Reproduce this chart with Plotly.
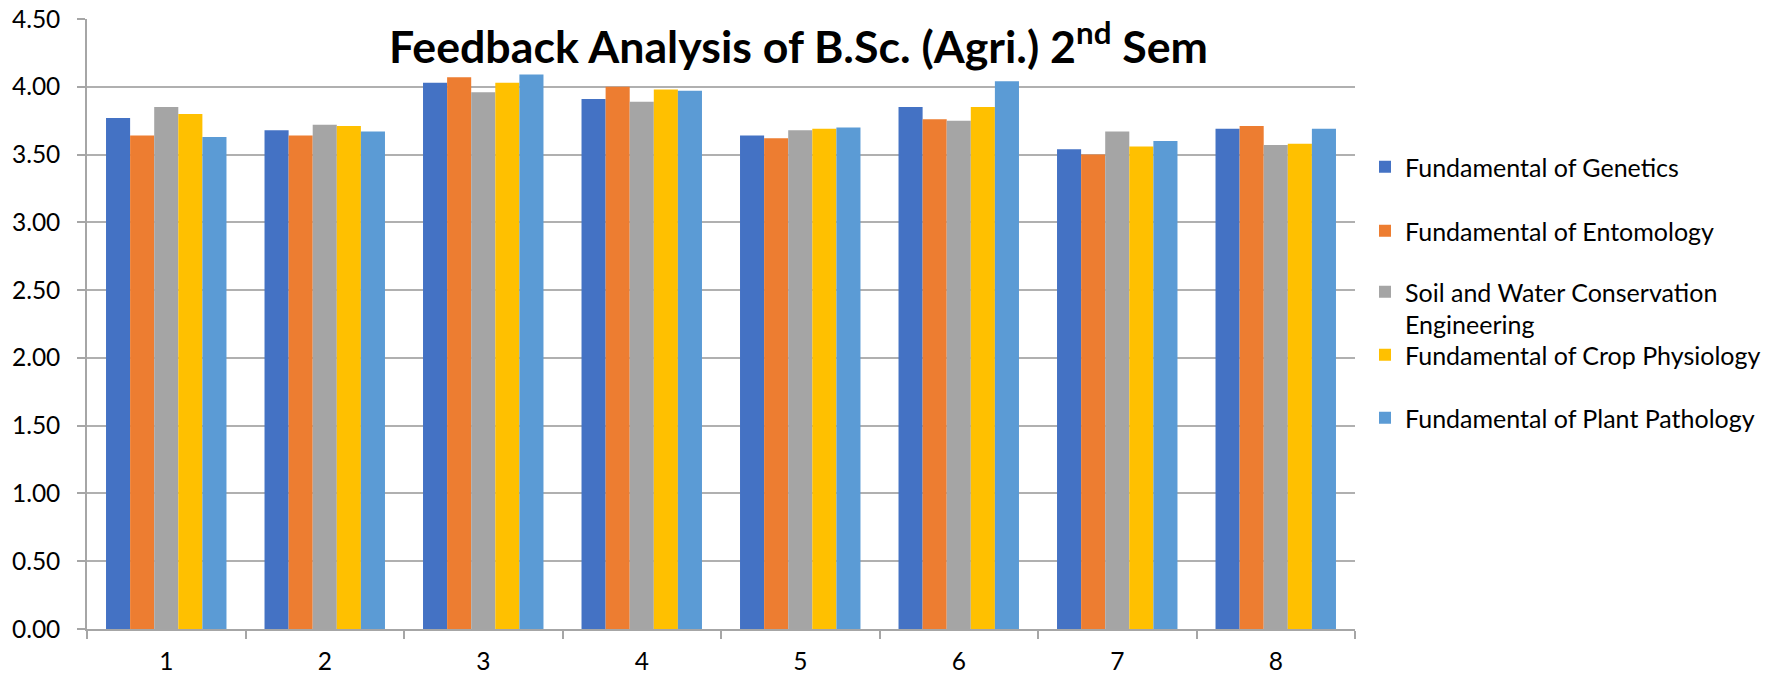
import plotly.graph_objects as go

categories = ["1", "2", "3", "4", "5", "6", "7", "8"]
series_names = [
    "Fundamental of Genetics",
    "Fundamental of Entomology",
    "Soil and Water Conservation<br>Engineering",
    "Fundamental of Crop Physiology",
    "Fundamental of Plant Pathology",
]
genetics = [3.77, 3.68, 4.03, 3.91, 3.64, 3.85, 3.54, 3.69]
entomology = [3.64, 3.64, 4.07, 4.00, 3.62, 3.76, 3.50, 3.71]
soil_water = [3.85, 3.72, 3.96, 3.89, 3.68, 3.75, 3.67, 3.57]
crop_physiology = [3.80, 3.71, 4.03, 3.98, 3.69, 3.85, 3.56, 3.58]
plant_pathology = [3.63, 3.67, 4.09, 3.97, 3.70, 4.04, 3.60, 3.69]
series_values = [genetics, entomology, soil_water, crop_physiology, plant_pathology]
colors = ["#4472C4", "#ED7D31", "#A5A5A5", "#FFC000", "#5B9BD5"]
y_ticks = [0, 0.5, 1.0, 1.5, 2.0, 2.5, 3.0, 3.5, 4.0, 4.5]

FONT = "Lato, 'Open Sans', sans-serif"
W, H = 1769, 675
legend_y_px = [168, 232, 293, 356, 419]  # legend item centres (px from top)

fig = go.Figure()
for i, (name, vals, col) in enumerate(zip(series_names, series_values, colors)):
    lg = "legend" if i == 0 else f"legend{i+1}"
    fig.add_trace(go.Bar(x=categories, y=vals, name=name, marker_color=col,
                         marker_line_width=0, legend=lg))

legend_common = dict(xref="container", yref="container", xanchor="left",
                     font=dict(family=FONT, size=25, color="#000000"),
                     bgcolor="rgba(0,0,0,0)", valign="top", itemwidth=30)
layout_legends = {}
for i, ypx in enumerate(legend_y_px):
    key = "legend" if i == 0 else f"legend{i+1}"
    layout_legends[key] = dict(legend_common, x=1365 / W, y=1 - (ypx - 24) / H, yanchor="top")

fig.update_layout(
    width=W, height=H,
    paper_bgcolor="white", plot_bgcolor="white",
    margin=dict(l=87, r=W - 1355, t=19, b=H - 629, autoexpand=False),
    barmode="group", bargap=0.24, bargroupgap=0,
    font=dict(family=FONT, size=24.5, color="#000000"),
    xaxis=dict(type="category", showline=True, linecolor="#a6a6a6", linewidth=1.5,
               ticks="outside", tickson="boundaries", ticklen=8, tickcolor="#a6a6a6",
               tickwidth=1.5, showgrid=False, tickfont=dict(size=24.5),
               ticklabelstandoff=10, automargin=False),
    yaxis=dict(range=[0, 4.5], tickvals=y_ticks, tickformat=".2f",
               showline=True, linecolor="#a6a6a6", linewidth=1.5,
               ticks="outside", ticklen=8, tickcolor="#a6a6a6", tickwidth=1.5,
               showgrid=True, gridcolor="#b0b0b0", gridwidth=2,
               zeroline=False, tickfont=dict(size=24.5),
               ticklabelstandoff=12, automargin=False),
    showlegend=True,
    annotations=[dict(text="<b>Feedback Analysis of B.Sc. (Agri.) 2<sup>nd</sup> Sem</b>",
                      xref="paper", yref="paper", x=(799 - 87) / (1355 - 87), y=1 - (43 - 19) / (629 - 19),
                      xanchor="center", yanchor="middle", showarrow=False,
                      font=dict(family=FONT, size=44.7, color="#000000"))],
    **layout_legends,
)

fig.write_html("out.html", config={"displayModeBar": False},
               post_script="document.body.style.margin='0px';document.body.style.overflow='hidden';")
